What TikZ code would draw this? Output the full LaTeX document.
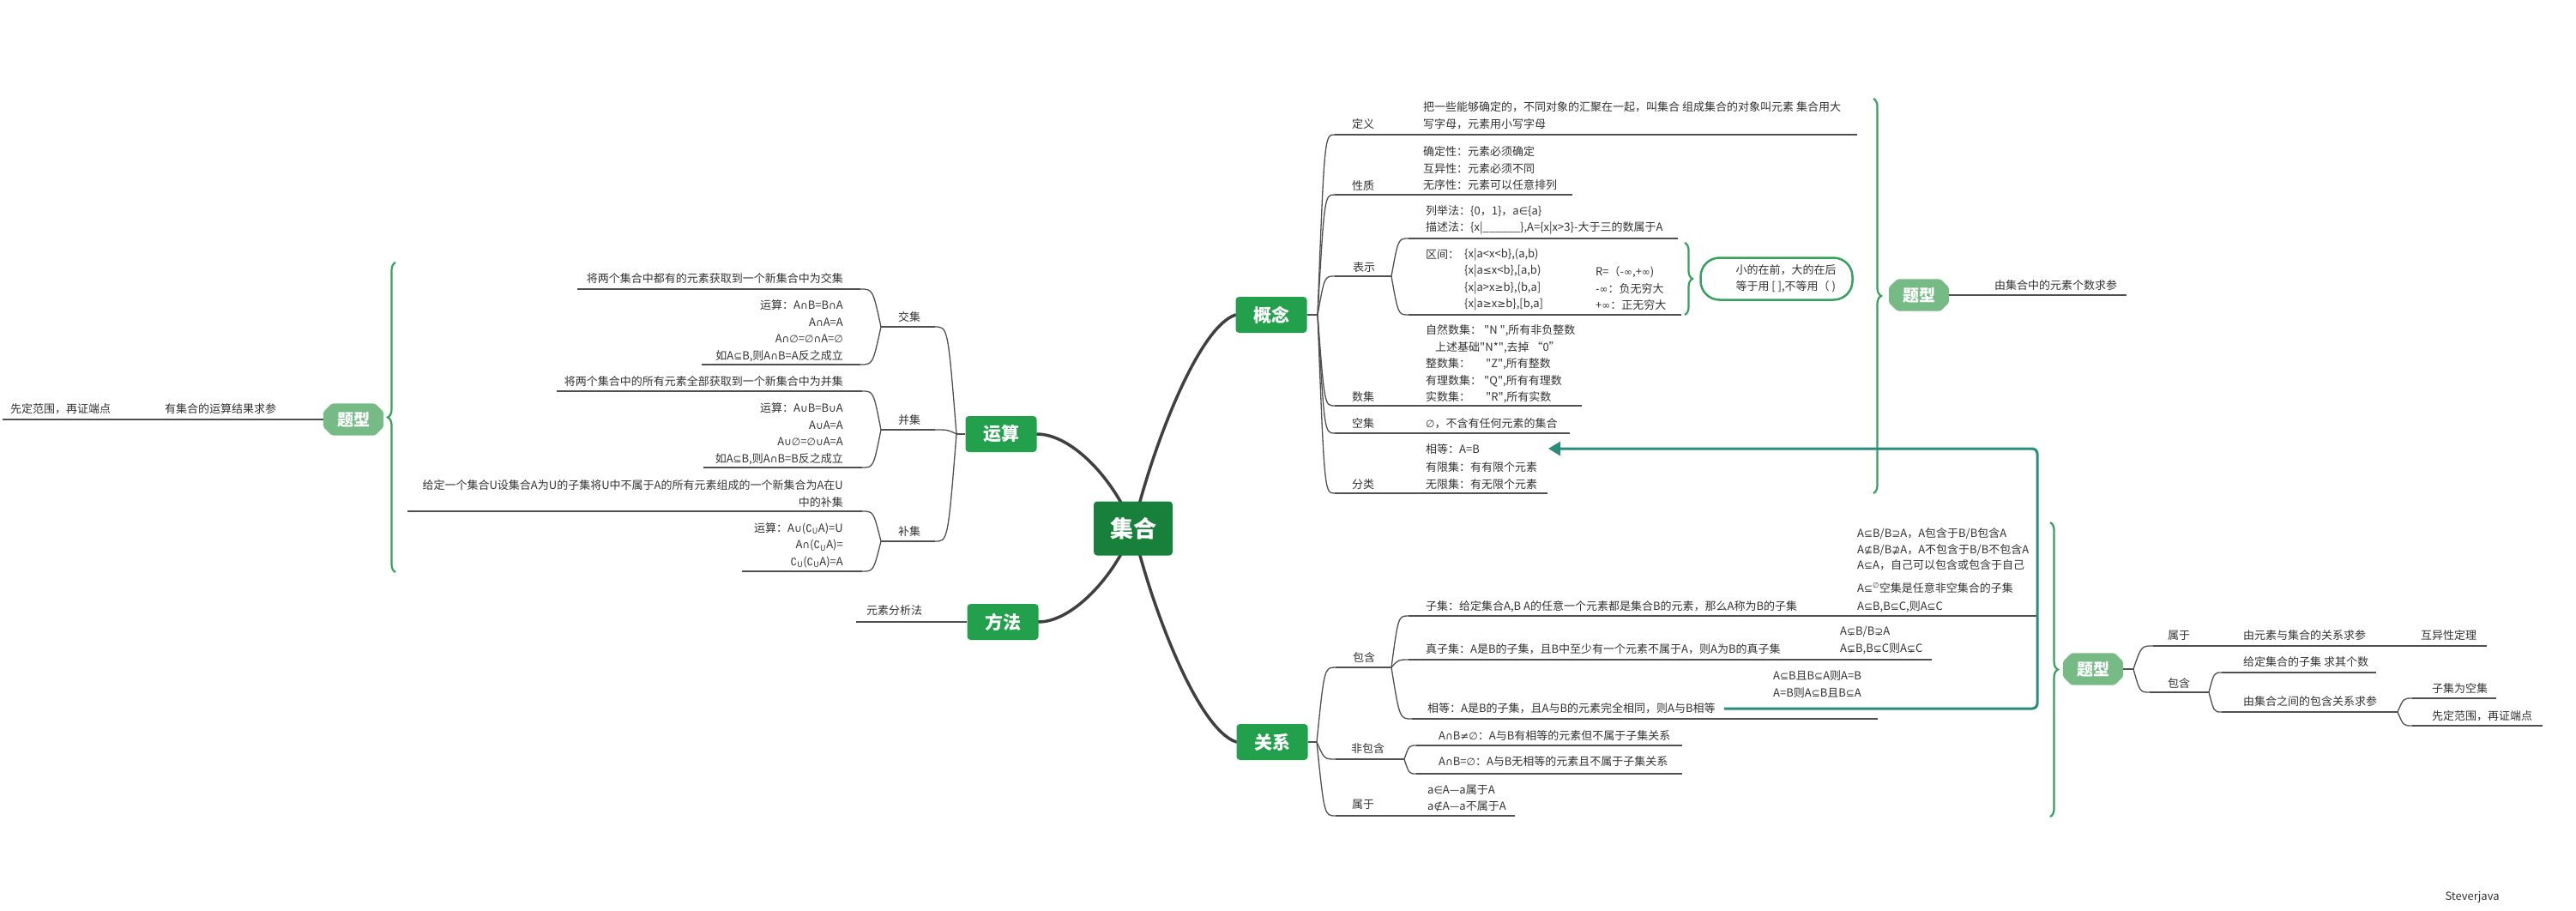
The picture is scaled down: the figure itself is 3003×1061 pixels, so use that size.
\documentclass[tikz,border=0pt]{standalone}
\usepackage{fontspec}
\setmainfont{Noto Sans CJK SC}
\newfontfamily\qf{Noto Sans CJK SC}
\newfontfamily\symf{DejaVu Sans}[Scale=0.92]
\usetikzlibrary{calc,decorations.pathreplacing,arrows.meta}
\pgfdeclarelayer{bg}
\pgfsetlayers{bg,main}

% set-theory symbols, taken from DejaVu Sans
\newcommand\Ssub{{\symf ⊆}}
\newcommand\Ssup{{\symf ⊇}}
\newcommand\Snsub{{\symf ⊈}}
\newcommand\Snsup{{\symf ⊉}}
\newcommand\Spsub{{\symf ⊊}}
\newcommand\Spsup{{\symf ⊋}}
\newcommand\Scap{{\symf ∩}}
\newcommand\Scup{{\symf ∪}}
\newcommand\Sin{{\symf ∈}}
\newcommand\Snin{{\symf ∉}}
\newcommand\Semp{{\symf ∅}}
\newcommand\Sinf{{\symf ∞}}
\newcommand\Sle{{\symf ≤}}
\newcommand\Sge{{\symf ≥}}
\newcommand\Sne{{\symf ≠}}
\newcommand\Scomp{{\symf ∁}}
% straight double quote, without the TeX quote mapping
\newcommand\qq{{\qf"}}

\definecolor{cdark}{HTML}{17803A}
\definecolor{cmain}{HTML}{22A04B}
\definecolor{ctx}{HTML}{76BA86}
\definecolor{cbrace}{HTML}{36A15E}
\definecolor{cteal}{HTML}{2B8C7B}
\definecolor{cline}{HTML}{505050}
\definecolor{ctext}{HTML}{333333}

% curved branch from a fork point to the start of a child's underline
\newcommand\branch[2]{%
  \path ($(#1)!0.4!(#2)$) coordinate (bctl);
  \draw[ln] (#1) .. controls (bctl |- #2) .. (#2);}

% octagonal backing for a 题型 node
\newcommand\octo[1]{%
  \begin{pgfonlayer}{bg}
  \fill[ctx,rounded corners=2pt]
    ([xshift=10pt]#1.north west) -- ([xshift=-10pt]#1.north east)
    -- ([yshift=-10pt]#1.north east) -- ([yshift=10pt]#1.south east)
    -- ([xshift=-10pt]#1.south east) -- ([xshift=10pt]#1.south west)
    -- ([yshift=10pt]#1.south west) -- ([yshift=-10pt]#1.north west) -- cycle;
  \end{pgfonlayer}}

\begin{document}
\begin{tikzpicture}[x=1pt,y=-1pt,
  lab/.style={anchor=west,inner sep=0pt,text=ctext,align=left,
    font=\fontsize{13}{19.5}\selectfont},
  labr/.style={anchor=east,inner sep=0pt,text=ctext,align=right,
    font=\fontsize{13}{19.5}\selectfont},
  ln/.style={draw=cline,line width=1.3pt},
  trunk/.style={draw=cline!80!black,line width=3.5pt,line cap=round},
  mainbox/.style={fill=cmain,rounded corners=4pt,text=white,inner sep=0pt,
    font=\fontsize{21}{24}\selectfont\bfseries,minimum width=83pt,minimum height=42pt},
  centbox/.style={mainbox,fill=cdark,font=\fontsize{27}{30}\selectfont\bfseries,
    minimum width=92pt,minimum height=63pt},
  tixing/.style={rectangle,text=white,inner sep=0pt,
    font=\fontsize{19}{22}\selectfont\bfseries,minimum width=70pt,minimum height=37pt},
  bracestyle/.style={draw=cbrace,line width=2.2pt,decorate,
    decoration={brace,amplitude=9pt}},
  callbox/.style={draw=cbrace,line width=2.5pt,rounded corners=22pt,fill=white,
    minimum width=177pt,minimum height=49pt,inner sep=0pt,text=ctext,align=left,
    font=\fontsize{13}{19.5}\selectfont},
  tealarrow/.style={draw=cteal,line width=3pt,rounded corners=6pt,
    -{Triangle[length=14pt,width=16pt]}}
]
\begin{pgfonlayer}{bg}
\fill[white] (0,0) rectangle (3003,1061);
\end{pgfonlayer}
\useasboundingbox (0,0) rectangle (3003,1061);

% ---------- centre and main topics ----------
\node[centbox] (cen) at (1321,616) {集合};
\node[mainbox] (gn) at (1482,367) {概念};
\node[mainbox] (ys) at (1167,506) {运算};
\node[mainbox] (ff) at (1169,725) {方法};
\node[mainbox] (gx) at (1483,865) {关系};

\begin{pgfonlayer}{bg}
\draw[trunk] (cen.center) .. controls (1340,532) and (1395,382) .. (gn.west);
\draw[trunk] (cen.center) .. controls (1340,700) and (1395,850) .. (gx.west);
\draw[trunk] (cen.center) .. controls (1300,560) and (1250,506) .. (ys.east);
\draw[trunk] (cen.center) .. controls (1300,672) and (1250,725) .. (ff.east);
\end{pgfonlayer}

% ---------- 概念 ----------
\coordinate (gnP) at (1536,367);
\draw[ln] (gn.east) -- (gnP);
\coordinate (dyC) at (1556,157);
\coordinate (xzC) at (1556,227);
\coordinate (bsC) at (1556,322);
\coordinate (sjC) at (1556,473);
\coordinate (kjC) at (1556,505);
\coordinate (flC) at (1556,575);
\branch{gnP}{dyC} \draw[ln] (dyC) -- ++(609,0);
\branch{gnP}{xzC} \draw[ln] (xzC) -- ++(277,0);
\branch{gnP}{bsC} \draw[ln] (bsC) -- ++(66,0) coordinate (bsP);
\branch{gnP}{sjC} \draw[ln] (sjC) -- ++(288,0);
\branch{gnP}{kjC} \draw[ln] (kjC) -- ++(274,0);
\branch{gnP}{flC} \draw[ln] (flC) -- ++(248,0) coordinate (flE);

\node[lab] (dyL) at (1576,145) {定义};
\node[lab] (dyT) at (1659,134.5) {把一些能够确定的，不同对象的汇聚在一起，叫集合\ 组成集合的对象叫元素\ 集合用大\\写字母，元素用小写字母};
\node[lab] (xzL) at (1576,217) {性质};
\node[lab] (xzT) at (1659,196.5) {确定性：元素必须确定\\互异性：元素必须不同\\无序性：元素可以任意排列};
\node[lab] (bsL) at (1577,312) {表示};

\coordinate (bs1C) at (1642,278);
\coordinate (bs2C) at (1642,367);
\branch{bsP}{bs1C} \draw[ln] (bs1C) -- ++(314,0);
\branch{bsP}{bs2C} \draw[ln] (bs2C) -- ++(318,0);
\node[lab] (ljT) at (1662,256.5) {列举法：\{0，1\}，a\Sin\{a\}\\描述法：\{x|\_\_\_\_\_\_\},A=\{x|x>3\}-大于三的数属于A};
\node[lab] (qjL) at (1662,297) {区间：};
\node[lab] (qjA) at (1707,326) {\{x|a<x<b\},(a,b)\\\{x|a\Sle x<b\},[a,b)\\\{x|a>x\Sge b\},(b,a]\\\{x|a\Sge x\Sge b\},[b,a]};
\node[lab] (qjB) at (1860,336) {R=（-\Sinf,+\Sinf)\\-\Sinf：负无穷大\\+\Sinf：正无穷大};
\coordinate (qjTop) at (1964,283);
\coordinate (qjBot) at (1964,367);
\draw[bracestyle] (qjTop) -- (qjBot);
\node[callbox] (kh) at (2071,325) {\hspace{22pt}小的在前，大的在后\hspace{14pt}\\\hspace{22pt}等于用 [ ],不等用（ )};

\node[lab] (sjL) at (1576,463) {数集};
\node[lab] (sjT) at (1662,424.5) {\makebox[68pt][l]{自然数集：}\qq N \qq,所有非负整数\\\hspace{11pt}上述基础\qq N*\qq,去掉 “0”\\\makebox[70pt][l]{整数集：}\qq Z\qq,所有整数\\\makebox[68pt][l]{有理数集：}\qq Q\qq,所有有理数\\\makebox[70pt][l]{实数集：}\qq R\qq,所有实数};
\node[lab] (kjL) at (1576,494) {空集};
\node[lab] (kjT) at (1662,494) {\Semp，不含有任何元素的集合};
\node[lab] (flL) at (1576,565) {分类};
\node[lab,font=\fontsize{13}{20.5}\selectfont] (flT) at (1662,544.5) {相等：A=B\\有限集：有有限个元素\\无限集：有无限个元素};

% 题型 of 概念
\coordinate (tb1Top) at (2184,115);
\coordinate (tb1Bot) at (2184,575);
\draw[bracestyle] (tb1Top) -- (tb1Bot);
\node[tixing] (tx1) at (2237,344) {题型};
\octo{tx1}
\draw[ln] (tx1.east) -- ++(207,0);
\node[lab] (tx1T) at (2325,333) {由集合中的元素个数求参};

% ---------- 运算 ----------
\coordinate (ysP) at (1115,506);
\draw[ln] (ys.west) -- (ysP);
\coordinate (jjR) at (1090,381);
\coordinate (bjR) at (1090,501);
\coordinate (bujR) at (1090,631);
\branch{ysP}{jjR} \draw[ln] (jjR) -- ++(-63,0) coordinate (jjP);
\branch{ysP}{bjR} \draw[ln] (bjR) -- ++(-63,0) coordinate (bjP);
\branch{ysP}{bujR} \draw[ln] (bujR) -- ++(-63,0) coordinate (bujP);
\node[lab] (jjL) at (1047,370) {交集};
\node[lab] (bjL) at (1047,490) {并集};
\node[lab] (bujL) at (1047,620) {补集};

\coordinate (jj1) at (1003,337);
\coordinate (jj2) at (1003,425);
\branch{jjP}{jj1} \draw[ln] (jj1) -- (673,337);
\branch{jjP}{jj2} \draw[ln] (jj2) -- (818,425);
\node[labr] (jj1T) at (983,325) {将两个集合中都有的元素获取到一个新集合中为交集};
\node[labr] (jj2T) at (983,385.5) {运算：A\Scap B=B\Scap A\\A\Scap A=A\\A\Scap\Semp=\Semp\Scap A=\Semp\\如A\Ssub B,则A\Scap B=A反之成立};

\coordinate (bj1) at (1005,456);
\coordinate (bj2) at (1005,545);
\branch{bjP}{bj1} \draw[ln] (bj1) -- (649,456);
\branch{bjP}{bj2} \draw[ln] (bj2) -- (820,545);
\node[labr] (bj1T) at (983,445) {将两个集合中的所有元素全部获取到一个新集合中为并集};
\node[labr] (bj2T) at (983,505.5) {运算：A\Scup B=B\Scup A\\A\Scup A=A\\A\Scup\Semp=\Semp\Scup A=A\\如A\Ssub B,则A\Scap B=B反之成立};

\coordinate (buj1) at (1005,596);
\coordinate (buj2) at (1005,666);
\branch{bujP}{buj1} \draw[ln] (buj1) -- (475,596);
\branch{bujP}{buj2} \draw[ln] (buj2) -- (865,666);
\node[labr] (buj1T) at (983,575.5) {给定一个集合U设集合A为U的子集将U中不属于A的所有元素组成的一个新集合为A在U\\中的补集};
\node[labr] (buj2T) at (983,635.5) {运算：A\Scup(\Scomp\textsubscript{U}A)=U\\A\Scap(\Scomp\textsubscript{U}A)=\\\Scomp\textsubscript{U}(\Scomp\textsubscript{U}A)=A};

% 题型 of 运算
\coordinate (tb2Bot) at (461,667);
\coordinate (tb2Top) at (461,306);
\draw[bracestyle] (tb2Bot) -- (tb2Top);
\node[tixing] (tx2) at (412,489) {题型};
\octo{tx2}
\draw[ln] (tx2.west) -- (3,489);
\node[lab] (tx2A) at (192,477) {有集合的运算结果求参};
\node[lab] (tx2B) at (12,477) {先定范围，再证端点};

% ---------- 方法 ----------
\draw[ln] (ff.west) -- ++(-129,0);
\node[lab] (ffT) at (1010,712) {元素分析法};

% ---------- 关系 ----------
\coordinate (gxP) at (1535,865);
\draw[ln] (gx.east) -- (gxP);
\coordinate (bhC) at (1557,778);
\coordinate (fbhC) at (1557,885);
\coordinate (syC) at (1557,951);
\branch{gxP}{bhC} \draw[ln] (bhC) -- ++(65,0) coordinate (bhP);
\branch{gxP}{fbhC} \draw[ln] (fbhC) -- ++(80,0) coordinate (fbhP);
\branch{gxP}{syC} \draw[ln] (syC) -- ++(209,0);
\node[lab] (bhL) at (1577,767) {包含};
\node[lab] (fbhL) at (1575,873) {非包含};
\node[lab] (syL) at (1576,938) {属于};

\coordinate (zjC) at (1642,718);
\coordinate (zzjC) at (1642,769);
\coordinate (xdC) at (1646,838);
\branch{bhP}{zjC} \draw[ln] (zjC) -- (2376,718);
\branch{bhP}{zzjC} \draw[ln] (zzjC) -- (2252,769);
\branch{bhP}{xdC} \draw[ln] (xdC) -- (2189,838);
\node[lab] (zjT) at (1662,707) {子集：给定集合A,B\ A的任意一个元素都是集合B的元素，那么A称为B的子集};
\node[lab,font=\fontsize{13}{18.5}\selectfont] (zjR1) at (2165,640.5) {A\Ssub B/B\Ssup A，A包含于B/B包含A\\A\Snsub B/B\Snsup A，A不包含于B/B不包含A\\A\Ssub A，自己可以包含或包含于自己};
\node[lab,font=\fontsize{13}{21}\selectfont] (zjR2) at (2165,696.5) {A\Ssub\textsuperscript{\Semp}空集是任意非空集合的子集\\A\Ssub B,B\Ssub C,则A\Ssub C};
\node[lab] (zzjT) at (1662,757) {真子集：A是B的子集，且B中至少有一个元素不属于A，则A为B的真子集};
\node[lab,font=\fontsize{13}{20}\selectfont] (zzjR) at (2145,747) {A\Spsub B/B\Spsup A\\A\Spsub B,B\Spsub C则A\Spsub C};
\node[lab] (xdT) at (1664,826) {相等：A是B的子集，且A与B的元素完全相同，则A与B相等};
\node[lab] (xdR) at (2067,797.5) {A\Ssub B且B\Ssub A则A=B\\A=B则A\Ssub B且B\Ssub A};

\coordinate (fb1) at (1651,869);
\coordinate (fb2) at (1651,902);
\branch{fbhP}{fb1} \draw[ln] (fb1) -- (1961,869);
\branch{fbhP}{fb2} \draw[ln] (fb2) -- (1961,902);
\node[lab] (fb1T) at (1677,858) {A\Scap B\Sne\Semp：A与B有相等的元素但不属于子集关系};
\node[lab] (fb2T) at (1677,888) {A\Scap B=\Semp：A与B无相等的元素且不属于子集关系};

\node[lab] (syT) at (1664,930.5) {a\Sin A—a属于A\\a\Snin A—a不属于A};

% link from 相等 (关系) back to 分类 (概念)
\coordinate (tcorner) at (2375,523);
\coordinate (ttip) at (1805,523);
\draw[tealarrow] ([xshift=10pt]xdT.east) -| (tcorner) -- (ttip);

% 题型 of 关系
\coordinate (tb3Top) at (2390,609);
\coordinate (tb3Bot) at (2390,952);
\draw[bracestyle] (tb3Top) -- (tb3Bot);
\node[tixing] (tx3) at (2440,780) {题型};
\octo{tx3}
\coordinate (rP) at (2487,780);
\draw[ln] (tx3.east) -- (rP);
\coordinate (r1C) at (2510,753);
\coordinate (r2C) at (2506,807);
\branch{rP}{r1C} \draw[ln] (r1C) -- (2899,753);
\branch{rP}{r2C} \draw[ln] (r2C) -- ++(69,0) coordinate (r2P);
\node[lab] (r1L) at (2527,741) {属于};
\node[lab] (r1A) at (2615,741) {由元素与集合的关系求参};
\node[lab] (r1B) at (2822,741) {互异性定理};
\node[lab] (r2L) at (2527,797) {包含};

\coordinate (r21) at (2590,784);
\coordinate (r22) at (2590,830);
\branch{r2P}{r21} \draw[ln] (r21) -- (2770,784);
\branch{r2P}{r22} \draw[ln] (r22) -- ++(205,0) coordinate (r3P);
\node[lab] (r21T) at (2615,772) {给定集合的子集\ 求其个数};
\node[lab] (r22T) at (2615,818) {由集合之间的包含关系求参};

\coordinate (r31) at (2812,814);
\coordinate (r32) at (2812,846);
\branch{r3P}{r31} \draw[ln] (r31) -- (2910,814);
\branch{r3P}{r32} \draw[ln] (r32) -- (2964,846);
\node[lab] (r31T) at (2835,803) {子集为空集};
\node[lab] (r32T) at (2835,835) {先定范围，再证端点};

% signature
\node[text=ctext,font=\fontsize{13}{15}\selectfont,inner sep=0pt] (sig) at (2882,1046) {Steverjava};
\end{tikzpicture}
\end{document}
